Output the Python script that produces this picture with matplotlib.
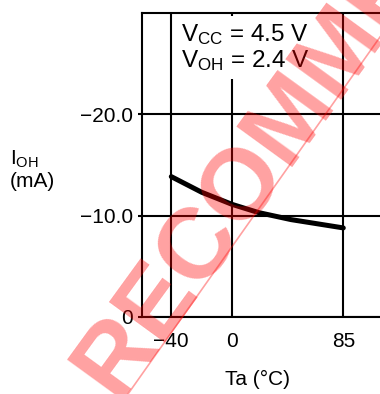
import numpy as np
import matplotlib
matplotlib.use('Agg')
import matplotlib.pyplot as plt
from matplotlib.lines import Line2D

plt.rcParams['font.family'] = ['Liberation Sans', 'DejaVu Sans']
plt.rcParams['mathtext.fontset'] = 'custom'
plt.rcParams['mathtext.rm'] = 'Liberation Sans'
plt.rcParams['mathtext.it'] = 'Liberation Sans:italic'

# curve
ta = [-40, -20, 0, 20, 45, 85]
ioh = [-13.85, -12.3, -11.1, -10.3, -9.6, -8.78]

xticks = [-40, 0, 85]
xticklabels = ['\u221240', '0', '85']
yticks = [0, -10, -20]
yticklabels = ['0', '\u221210.0', '\u221220.0']


# the temperature axis is drawn with different spacing left and right of 0
def fwd(t):
    t = np.asarray(t, dtype=float)
    return np.where(t < 0, t * 61.0 / 40.0, t * 111.0 / 85.0)


def inv(u):
    u = np.asarray(u, dtype=float)
    return np.where(u < 0, u * 40.0 / 61.0, u * 85.0 / 111.0)


fig = plt.figure(figsize=(3.8, 3.94), dpi=100)
ax = fig.add_axes([141.7 / 380, 1 - 316.7 / 394, (395 - 141.7) / 380, (316.7 - 13.3) / 394])

ax.set_xscale('function', functions=(fwd, inv))
ax.set_xlim(-59.4, 124.6)
ax.set_ylim(0, -30)

ax.plot(ta, ioh, color='black', lw=3.6, solid_capstyle='round', zorder=2)

ax.set_xticks(xticks)
ax.set_xticklabels(xticklabels, fontsize=15)
ax.set_yticks(yticks)
ax.set_yticklabels(yticklabels, fontsize=15)
ax.tick_params(axis='x', length=0, pad=11)
ax.tick_params(axis='y', length=3, width=1.5, pad=3)
ax.minorticks_off()

ax.set_axisbelow(True)
ax.grid(True, color='black', lw=1.5)
for side in ['left', 'bottom', 'top']:
    ax.spines[side].set_linewidth(1.5)
ax.spines['right'].set_visible(False)

ax.set_xlabel('Ta (\u00b0C)', fontsize=15)
ax.xaxis.set_label_coords(0.458, -0.175)

ax.text(0.155, 0.972, 'V$_{\\mathrm{CC}}$ = 4.5 V\nV$_{\\mathrm{OH}}$ = 2.4 V',
        transform=ax.transAxes, fontsize=17.5, ha='left', va='top', linespacing=1.05,
        zorder=2.2, bbox=dict(boxstyle='square,pad=0.25', fc='white', ec='none'))

fig.text(10 / 380, 1 - 170 / 394, 'I$_{\\mathrm{OH}}$\n(mA)', fontsize=15,
         ha='left', va='center', linespacing=1.1)

# watermark
fig.text(116 / 380, 1 - 400 / 394, 'RECOMMENDED', fontsize=72, fontweight='bold',
         color='red', alpha=0.37, rotation=54, rotation_mode='anchor',
         ha='left', va='baseline', zorder=10)
fig.add_artist(Line2D([128 / 380, 1.0], [0.0, 1 - 37 / 394], color='red', alpha=0.37,
                      lw=1.2, zorder=10))

plt.savefig('out.png', dpi=100)
